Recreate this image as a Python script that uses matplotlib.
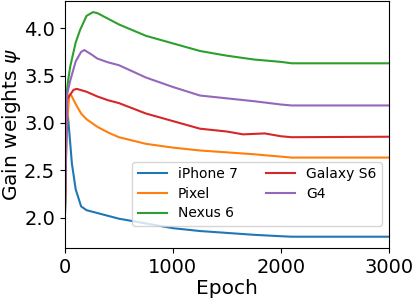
import matplotlib
matplotlib.use("Agg")
import matplotlib.pyplot as plt

iphone_ep = [0, 15, 30, 65, 100, 150, 200, 300, 400, 500, 750, 1000, 1250, 1500, 1750, 2000, 2100, 3000]
iphone = [2.0, 3.15, 3.05, 2.57, 2.3, 2.12, 2.08, 2.05, 2.02, 1.99, 1.94, 1.89, 1.86, 1.84, 1.82, 1.805, 1.80, 1.80]

pixel_ep = [0, 15, 40, 60, 100, 150, 200, 250, 300, 400, 500, 750, 1000, 1250, 1500, 1750, 2000, 2100, 3000]
pixel = [2.0, 2.9, 3.3, 3.29, 3.2, 3.1, 3.04, 3.0, 2.96, 2.9, 2.85, 2.78, 2.74, 2.71, 2.69, 2.67, 2.645, 2.635, 2.635]

nexus_ep = [0, 15, 30, 50, 100, 140, 200, 260, 300, 400, 500, 750, 1000, 1250, 1500, 1750, 2000, 2100, 3000]
nexus = [2.0, 3.3, 3.45, 3.6, 3.85, 3.98, 4.13, 4.17, 4.16, 4.1, 4.04, 3.92, 3.84, 3.76, 3.71, 3.67, 3.645, 3.63, 3.63]

galaxy_ep = [0, 20, 50, 80, 110, 200, 300, 400, 500, 750, 1000, 1250, 1500, 1650, 1750, 1850, 2000, 2100, 3000]
galaxy = [2.0, 3.25, 3.3, 3.35, 3.36, 3.33, 3.28, 3.24, 3.21, 3.1, 3.02, 2.94, 2.91, 2.88, 2.885, 2.89, 2.86, 2.85, 2.855]

g4_ep = [0, 20, 50, 100, 150, 180, 250, 300, 400, 500, 750, 1000, 1250, 1500, 1750, 2000, 2100, 3000]
g4 = [2.0, 3.3, 3.45, 3.65, 3.75, 3.77, 3.72, 3.68, 3.64, 3.61, 3.48, 3.38, 3.29, 3.26, 3.23, 3.195, 3.185, 3.185]

fig, ax = plt.subplots(figsize=(4.16, 2.98), dpi=100)
ax.plot(iphone_ep, iphone, label="iPhone 7")
ax.plot(pixel_ep, pixel, label="Pixel")
ax.plot(nexus_ep, nexus, label="Nexus 6")
ax.plot(galaxy_ep, galaxy, label="Galaxy S6")
ax.plot(g4_ep, g4, label="G4")

ax.set_xlim(0, 3000)
ax.set_xticks([0, 1000, 2000, 3000])
ax.set_yticks([2.0, 2.5, 3.0, 3.5, 4.0])
ax.tick_params(labelsize=14)
ax.set_xlabel("Epoch", fontsize=14.5, labelpad=2)
ax.set_ylabel(r"Gain weights $\psi$", fontsize=14.5, labelpad=1)
ax.legend(ncol=2, fontsize=10, loc="lower right", bbox_to_anchor=(0.978, 0.089),
          borderaxespad=0, labelspacing=0.4, handlelength=2.1)

fig.subplots_adjust(left=0.156, right=0.935, top=0.997, bottom=0.168)
fig.savefig("out.png", dpi=100)
